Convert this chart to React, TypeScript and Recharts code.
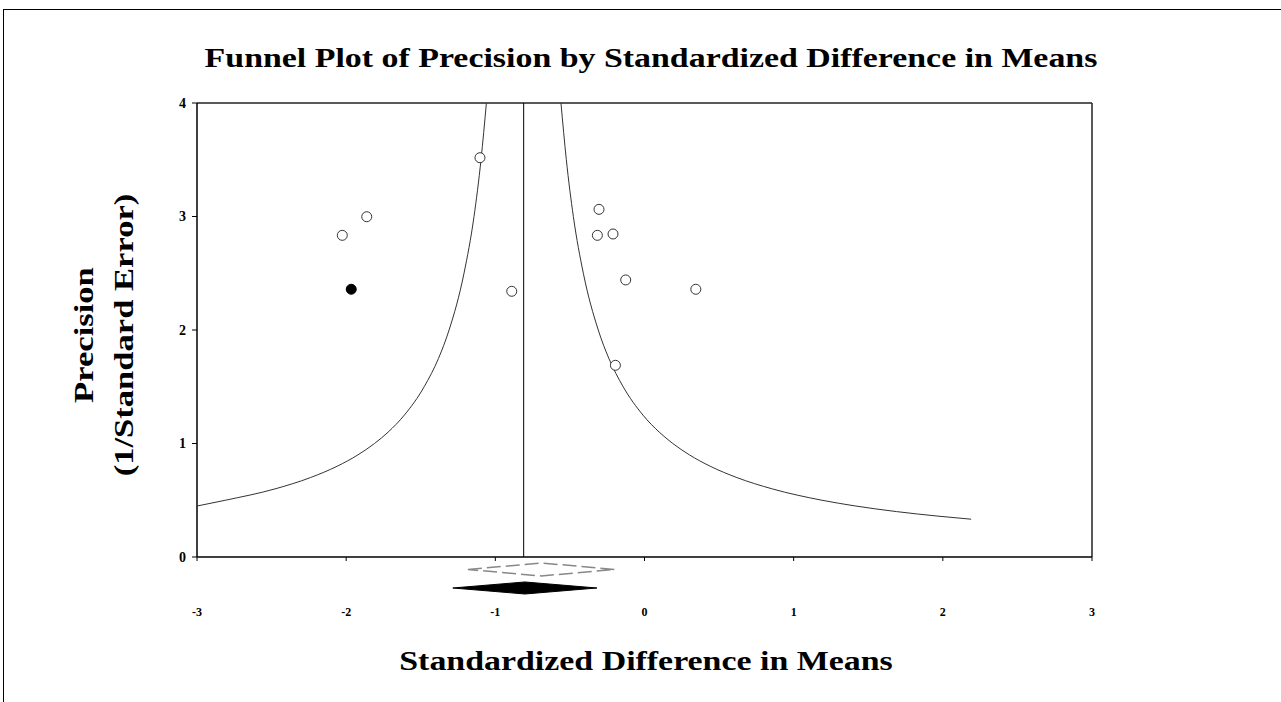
import React from 'react';
import {
  ScatterChart,
  Scatter,
  XAxis,
  YAxis,
  ReferenceLine,
  ReferenceArea,
} from 'recharts';

// Observed studies: standardized difference in means (x) vs precision (y)
const observedStudies = [
  { x: -1.103, y: 3.518 },
  { x: -1.862, y: 2.998 },
  { x: -2.026, y: 2.834 },
  { x: -0.89, y: 2.341 },
  { x: -0.305, y: 3.063 },
  { x: -0.316, y: 2.834 },
  { x: -0.211, y: 2.846 },
  { x: -0.126, y: 2.441 },
  { x: 0.344, y: 2.359 },
  { x: -0.195, y: 1.689 },
];

// Imputed study (filled)
const imputedStudies = [{ x: -1.966, y: 2.359 }];

// Combined effect (vertical line)
const combinedEffect = -0.81;

// Funnel boundaries
const leftFunnel = [
  { x: -3.0, y: 0.449 },
  { x: -2.81, y: 0.5 },
  { x: -2.477, y: 0.6 },
  { x: -2.239, y: 0.7 },
  { x: -2.06, y: 0.8 },
  { x: -1.921, y: 0.9 },
  { x: -1.81, y: 1.0 },
  { x: -1.719, y: 1.1 },
  { x: -1.61, y: 1.25 },
  { x: -1.477, y: 1.5 },
  { x: -1.381, y: 1.75 },
  { x: -1.31, y: 2.0 },
  { x: -1.21, y: 2.5 },
  { x: -1.143, y: 3.0 },
  { x: -1.096, y: 3.5 },
  { x: -1.06, y: 4.0 },
];

const rightFunnel = [
  { x: -0.56, y: 4.0 },
  { x: -0.524, y: 3.5 },
  { x: -0.477, y: 3.0 },
  { x: -0.41, y: 2.5 },
  { x: -0.31, y: 2.0 },
  { x: -0.239, y: 1.75 },
  { x: -0.143, y: 1.5 },
  { x: -0.01, y: 1.25 },
  { x: 0.099, y: 1.1 },
  { x: 0.19, y: 1.0 },
  { x: 0.301, y: 0.9 },
  { x: 0.44, y: 0.8 },
  { x: 0.619, y: 0.7 },
  { x: 0.857, y: 0.6 },
  { x: 1.19, y: 0.5 },
  { x: 1.412, y: 0.45 },
  { x: 1.69, y: 0.4 },
  { x: 1.968, y: 0.36 },
  { x: 2.19, y: 0.333 },
];

// Summary diamonds: [lower, upper] on x, [top, bottom] on y (below the axis)
const observedDiamond = { x1: -1.184, x2: -0.198, y1: -0.053, y2: -0.167 };
const adjustedDiamond = { x1: -1.285, x2: -0.319, y1: -0.22, y2: -0.326 };

const xTicks = [-3, -2, -1, 0, 1, 2, 3];
const yTicks = [0, 1, 2, 3, 4];

const SERIF = '"Liberation Serif", "Times New Roman", Times, serif';

const OpenCircle = (props: any) => (
  <circle cx={props.cx} cy={props.cy} r={5} fill="#fff" stroke="#333" strokeWidth={1} />
);
const FilledCircle = (props: any) => (
  <circle cx={props.cx} cy={props.cy} r={5} fill="#000" stroke="#000" strokeWidth={1} />
);
const NoShape = () => <g />;

const makeDiamond = (filled: boolean) => (props: any) => {
  const x = Number(props.x);
  const y = Number(props.y);
  const w = Math.abs(Number(props.width));
  const h = Math.abs(Number(props.height));
  const pts = `${x},${y + h / 2} ${x + w / 2},${y} ${x + w},${y + h / 2} ${x + w / 2},${y + h}`;
  return filled ? (
    <polygon points={pts} fill="#000" stroke="#000" strokeWidth={1} />
  ) : (
    <polygon points={pts} fill="#fff" stroke="#888" strokeWidth={1.5} strokeDasharray="14 5" />
  );
};

export default function App() {
  return (
    <div
      style={{
        position: 'absolute',
        left: 0,
        top: 0,
        width: 1281,
        height: 702,
        background: '#fff',
        overflow: 'hidden',
      }}
    >
      <div
        style={{
          position: 'absolute',
          left: 3,
          top: 9,
          width: 1290,
          height: 700,
          borderTop: '1.5px solid #000',
          borderLeft: '1px solid #000',
        }}
      />
      <div
        style={{
          position: 'absolute',
          left: 0,
          width: 1302,
          top: 42,
          textAlign: 'center',
          fontFamily: SERIF,
          fontWeight: 'bold',
          fontSize: 28,
          lineHeight: '32px',
          color: '#000',
          whiteSpace: 'nowrap',
          transform: 'scaleX(1.21)',
          transformOrigin: '651px 16px',
        }}
      >
        Funnel Plot of Precision by Standardized Difference in Means
      </div>
      <div
        style={{
          position: 'absolute',
          left: 0,
          width: 1292,
          top: 646,
          textAlign: 'center',
          fontFamily: SERIF,
          fontWeight: 'bold',
          fontSize: 27,
          lineHeight: '30px',
          color: '#000',
          whiteSpace: 'nowrap',
          transform: 'scaleX(1.255)',
          transformOrigin: '646px 15px',
        }}
      >
        Standardized Difference in Means
      </div>
      <div
        style={{
          position: 'absolute',
          left: 104 - 200,
          top: 335 - 40,
          width: 400,
          height: 80,
          transform: 'rotate(-90deg) scaleX(1.235)',
          transformOrigin: '200px 40px',
          textAlign: 'center',
          fontFamily: SERIF,
          fontWeight: 'bold',
          fontSize: 28,
          lineHeight: '40px',
          color: '#000',
          whiteSpace: 'nowrap',
        }}
      >
        <div>Precision</div>
        <div>(1/Standard Error)</div>
      </div>
      <div style={{ position: 'absolute', left: 0, top: 0 }}>
        <ScatterChart
          width={1281}
          height={702}
          margin={{ top: 103, right: 189, bottom: 115, left: 157 }}
        >
          <XAxis
            type="number"
            dataKey="x"
            domain={[-3, 3]}
            ticks={xTicks}
            allowDataOverflow
            interval={0}
            tickSize={4}
            tickMargin={46}
            height={30}
            axisLine={{ stroke: '#000', strokeWidth: 1.5 }}
            tickLine={{ stroke: '#000' }}
            tick={{ fontFamily: SERIF, fontWeight: 'bold', fontSize: 12, fill: '#000' }}
          />
          <YAxis
            type="number"
            dataKey="y"
            domain={[0, 4]}
            ticks={yTicks}
            allowDataOverflow
            interval={0}
            width={40}
            tickSize={5}
            tickMargin={6}
            axisLine={{ stroke: '#000', strokeWidth: 1.5 }}
            tickLine={{ stroke: '#000' }}
            tick={{ fontFamily: SERIF, fontWeight: 'bold', fontSize: 14, fill: '#000' }}
          />
          <ReferenceLine y={4} stroke="#222" strokeWidth={1.5} />
          <ReferenceLine x={3} stroke="#222" strokeWidth={1.5} />
          <ReferenceLine x={combinedEffect} stroke="#000" strokeWidth={1} />
          <Scatter
            data={leftFunnel}
            line={{ stroke: '#333', strokeWidth: 1 }}
            lineJointType="monotoneX"
            shape={NoShape}
            isAnimationActive={false}
          />
          <Scatter
            data={rightFunnel}
            line={{ stroke: '#333', strokeWidth: 1 }}
            lineJointType="monotoneX"
            shape={NoShape}
            isAnimationActive={false}
          />
          <Scatter data={observedStudies} shape={OpenCircle} isAnimationActive={false} />
          <Scatter data={imputedStudies} shape={FilledCircle} isAnimationActive={false} />
          <ReferenceArea
            x1={observedDiamond.x1}
            x2={observedDiamond.x2}
            y1={observedDiamond.y1}
            y2={observedDiamond.y2}
            ifOverflow="visible"
            shape={makeDiamond(false)}
          />
          <ReferenceArea
            x1={adjustedDiamond.x1}
            x2={adjustedDiamond.x2}
            y1={adjustedDiamond.y1}
            y2={adjustedDiamond.y2}
            ifOverflow="visible"
            shape={makeDiamond(true)}
          />
        </ScatterChart>
      </div>
    </div>
  );
}
